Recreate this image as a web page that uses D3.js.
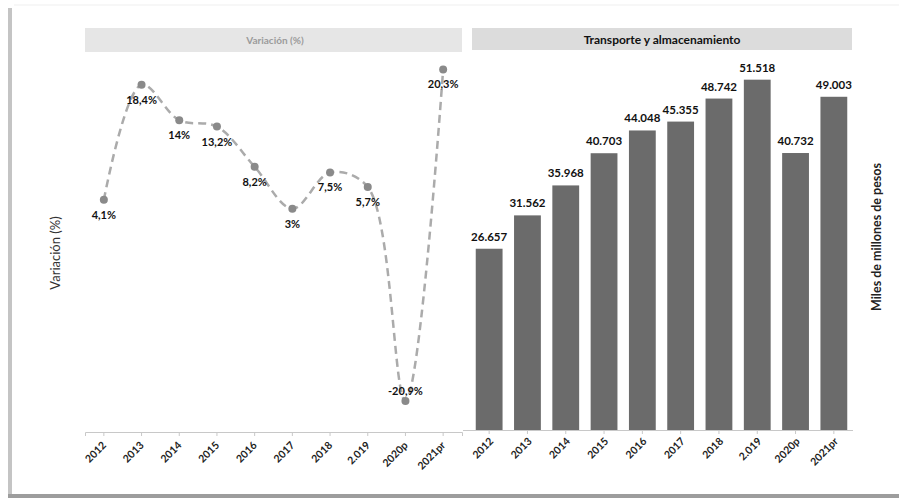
<!DOCTYPE html>
<html lang="es">
<head>
<meta charset="UTF-8">
<title>Transporte y almacenamiento</title>
<script src="https://d3js.org/d3.v7.min.js"></script>
<style>
    body, html { margin: 0; padding: 0; background: #fff; font-family: 'Lato', sans-serif; }
    svg { display: block; }
</style>
</head>
<body>
<div id="chart"></div>
<script>
    // data
    const years = ['2012', '2013', '2014', '2015', '2016', '2017', '2018', '2.019', '2020p', '2021pr']
    const variation = [4.1, 18.4, 14, 13.2, 8.2, 3, 7.5, 5.7, -20.9, 20.3]
    const values = [26657, 31562, 35968, 40703, 44048, 45355, 48742, 51518, 40732, 49003]
    const leftTitle = 'Variación (%)'
    const rightTitle = 'Transporte y almacenamiento'
    const leftAxisTitle = 'Variación (%)'
    const rightAxisTitle = 'Miles de millones de pesos'

    const width = 899, height = 500
    const es = d3.formatLocale({ decimal: ',', thousands: '.', grouping: [3], currency: ['$', ''], minus: '-' })
    const fmtPct = v => es.format(',~r')(v) + '%'
    const fmtVal = v => es.format(',')(v)

    const svg = d3.select('#chart').append('svg')
        .attr('width', width)
        .attr('height', height)

    // frame
    svg.append('line').attr('x1', 14).attr('x2', 899).attr('y1', 5).attr('y2', 5)
        .style('stroke', '#efefef').style('stroke-width', 1)
    svg.append('rect').attr('x', 8).attr('y', 8).attr('width', 4).attr('height', 490)
        .style('fill', '#c4c4c4')
    svg.append('rect').attr('x', 8).attr('y', 494).attr('width', 891).attr('height', 4)
        .style('fill', '#9d9d9d')

    // ---- left: variation line ----
    const xL = d3.scaleBand().domain(years).range([85, 462])
    const yL = d3.scaleLinear().domain([-24.75, 22.1]).range([432, 55])

    svg.append('rect').attr('x', 85).attr('y', 28).attr('width', 377).attr('height', 24)
        .style('fill', '#e6e6e6')
    svg.append('text').attr('x', 275).attr('y', 44)
        .attr('text-anchor', 'middle')
        .style('font-size', '10px').style('font-weight', 'bold').style('fill', '#9b9b9b')
        .text(leftTitle)

    const axL = svg.append('g').attr('transform', 'translate(0,432)')
        .call(d3.axisBottom(xL).tickSize(4).tickFormat(''))
    axL.select('.domain').style('stroke', '#c8c8c8')
    axL.selectAll('.tick line').style('stroke', '#c8c8c8')

    svg.append('g').selectAll('text').data(years).enter().append('text')
        .attr('transform', d => `translate(${xL(d) + xL.bandwidth() / 2 + 3},446) rotate(-45)`)
        .attr('text-anchor', 'end')
        .style('font-size', '10.5px').style('font-weight', 'bold').style('fill', '#222')
        .text(d => d)

    const pts = years.map((y, i) => ({ year: y, v: variation[i] }))
    const line = d3.line()
        .x(d => xL(d.year) + xL.bandwidth() / 2)
        .y(d => yL(d.v))
        .curve(d3.curveCatmullRom.alpha(0.5))

    svg.append('path').datum(pts)
        .attr('d', line)
        .style('fill', 'none')
        .style('stroke', '#ababab')
        .style('stroke-width', 2.5)
        .style('stroke-dasharray', '8,5')

    svg.append('g').selectAll('circle').data(pts).enter().append('circle')
        .attr('cx', d => xL(d.year) + xL.bandwidth() / 2)
        .attr('cy', d => yL(d.v))
        .attr('r', 4)
        .style('fill', '#8a8a8a')

    const minV = d3.min(variation)
    svg.append('g').selectAll('text').data(pts).enter().append('text')
        .attr('x', d => xL(d.year) + xL.bandwidth() / 2)
        .attr('y', d => yL(d.v) + (d.v === minV ? -6 : 19))
        .attr('text-anchor', 'middle')
        .style('font-size', '11px').style('font-weight', 'bold').style('fill', '#111')
        .text(d => fmtPct(d.v))

    svg.append('text')
        .attr('transform', 'translate(60,253) rotate(-90)')
        .attr('text-anchor', 'middle')
        .style('font-size', '13px').style('fill', '#333')
        .text(leftAxisTitle)

    // ---- right: bars ----
    const xR = d3.scaleBand().domain(years).range([470, 853]).paddingInner(0.3).paddingOuter(0.15)
    const yR = d3.scaleLinear().domain([0, 55000]).range([430, 56])

    svg.append('rect').attr('x', 472).attr('y', 28).attr('width', 380).attr('height', 22)
        .style('fill', '#dcdcdc')
    svg.append('text').attr('x', 662).attr('y', 44)
        .attr('text-anchor', 'middle')
        .style('font-size', '12px').style('font-weight', 'bold').style('fill', '#111')
        .text(rightTitle)

    svg.append('g').selectAll('rect').data(values).enter().append('rect')
        .attr('x', (d, i) => xR(years[i]))
        .attr('y', d => yR(d))
        .attr('width', xR.bandwidth())
        .attr('height', d => yR(0) - yR(d))
        .style('fill', '#6b6b6b')

    const axR = svg.append('g').attr('transform', 'translate(0,430)')
        .call(d3.axisBottom(xR).tickSize(4).tickFormat('').tickSizeOuter(0))
    axR.select('.domain').attr('d', 'M463,0.5H853').style('stroke', '#c8c8c8')
    axR.selectAll('.tick line').style('stroke', '#c8c8c8')

    svg.append('g').selectAll('text').data(years).enter().append('text')
        .attr('transform', d => `translate(${xR(d) + xR.bandwidth() / 2 + 5},442) rotate(-45)`)
        .attr('text-anchor', 'end')
        .style('font-size', '10.5px').style('font-weight', 'bold').style('fill', '#222')
        .text(d => d)

    svg.append('g').selectAll('text').data(values).enter().append('text')
        .attr('x', (d, i) => xR(years[i]) + xR.bandwidth() / 2)
        .attr('y', d => yR(d) - 8)
        .attr('text-anchor', 'middle')
        .style('font-size', '11.5px').style('font-weight', 'bold').style('fill', '#111')
        .text(d => fmtVal(d))

    svg.append('text')
        .attr('transform', 'translate(881,237) rotate(-90)')
        .attr('text-anchor', 'middle')
        .style('font-size', '12.5px').style('font-weight', 'bold').style('fill', '#222')
        .text(rightAxisTitle)
</script>
</body>
</html>
